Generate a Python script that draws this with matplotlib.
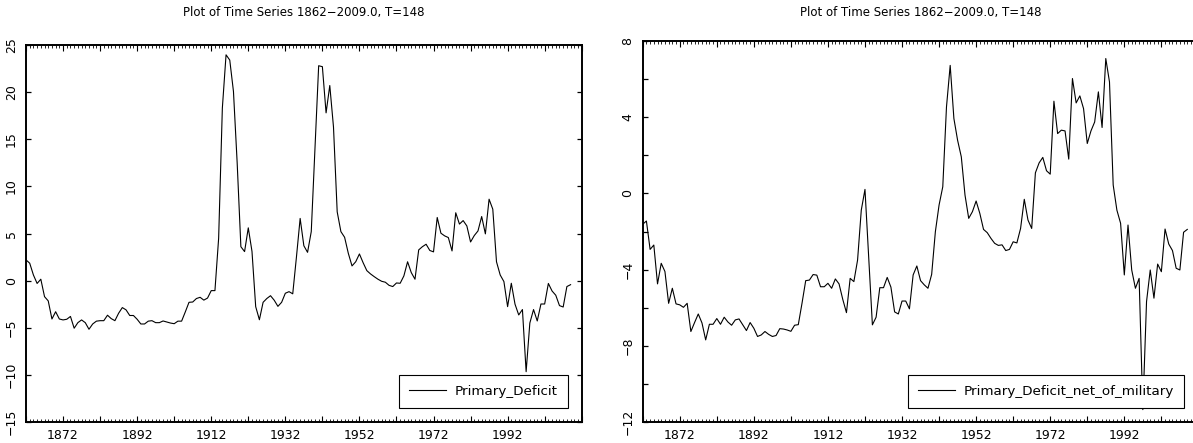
"""
Primary deficit time series, two panels (total and net of military)
"""

import numpy as np
import matplotlib.pyplot as plt
from matplotlib.ticker import MultipleLocator

# ---- data ----
first_year = 1862
last_year = 2009
years = np.arange(first_year, last_year + 1)

primary_deficit = [
    2.2, 1.85, 0.6, -0.3, 0.15, -1.7, -2.15, -4.07, -3.3, -4.07,          # 1862-1871
    -4.17, -4.1, -3.8, -5.05, -4.46, -4.17, -4.46, -5.16, -4.6, -4.3,     # 1872-1881
    -4.25, -4.25, -3.67, -4.03, -4.25, -3.46, -2.86, -3.1, -3.7, -3.7,    # 1882-1891
    -4.1, -4.6, -4.6, -4.3, -4.25, -4.46, -4.46, -4.28, -4.39, -4.5,      # 1892-1901
    -4.57, -4.3, -4.3, -3.32, -2.3, -2.27, -1.9, -1.77, -2.07, -1.85,     # 1902-1911
    -1.06, -1.06, 4.5, 18.3, 23.96, 23.4, 20.07, 12.5, 3.6, 3.08,         # 1912-1921
    5.6, 3.1, -2.76, -4.15, -2.3, -1.9, -1.6, -2.08, -2.73, -2.3,         # 1922-1931
    -1.34, -1.17, -1.4, 2.5, 6.6, 3.7, 3.0, 5.2, 14.0, 22.8,              # 1932-1941
    22.7, 17.8, 20.7, 16.3, 7.3, 5.2, 4.6, 2.9, 1.56, 2.0,                # 1942-1951
    2.83, 1.9, 1.06, 0.71, 0.42, 0.15, -0.07, -0.17, -0.5, -0.63,         # 1952-1961
    -0.25, -0.28, 0.5, 2.0, 0.85, 0.15, 3.26, 3.6, 3.86, 3.2,             # 1962-1971
    3.05, 6.7, 5.03, 4.75, 4.57, 3.15, 7.2, 6.0, 6.37, 5.8,               # 1972-1981
    4.1, 4.78, 5.27, 6.8, 4.96, 8.64, 7.58, 2.0, 0.6, -0.1,               # 1982-1991
    -2.76, -0.28, -2.5, -3.64, -3.07, -9.66, -4.5, -3.07, -4.28, -2.48,   # 1992-2001
    -2.48, -0.3, -1.1, -1.55, -2.65, -2.8, -0.63, -0.43,                  # 2002-2009
]

primary_deficit_net_military = [
    -1.62, -1.45, -2.94, -2.71, -4.75, -3.67, -4.1, -5.77, -4.98, -5.8,   # 1862-1871
    -5.85, -5.98, -5.77, -7.25, -6.78, -6.33, -6.8, -7.69, -6.87, -6.87,  # 1872-1881
    -6.57, -6.87, -6.5, -6.75, -6.92, -6.64, -6.59, -6.9, -7.2, -6.78,    # 1882-1891
    -7.08, -7.51, -7.43, -7.25, -7.4, -7.51, -7.46, -7.1, -7.12, -7.17,   # 1892-1901
    -7.24, -6.92, -6.89, -5.77, -4.58, -4.55, -4.26, -4.29, -4.9, -4.9,   # 1902-1911
    -4.72, -4.98, -4.49, -4.75, -5.56, -6.26, -4.46, -4.63, -3.5, -0.88,  # 1912-1921
    0.21, -3.32, -6.9, -6.5, -4.95, -4.95, -4.41, -4.92, -6.22, -6.33,    # 1922-1931
    -5.65, -5.65, -6.06, -4.28, -3.81, -4.58, -4.8, -4.98, -4.25, -2.01,  # 1932-1941
    -0.61, 0.35, 4.54, 6.72, 3.93, 2.79, 1.92, -0.09, -1.31, -0.96,       # 1942-1951
    -0.4, -1.05, -1.89, -2.06, -2.36, -2.62, -2.73, -2.7, -3.0, -2.94,    # 1952-1961
    -2.54, -2.6, -1.84, -0.31, -1.4, -1.84, 1.08, 1.6, 1.89, 1.19,        # 1962-1971
    1.01, 4.84, 3.14, 3.32, 3.28, 1.8, 6.03, 4.75, 5.12, 4.45,            # 1972-1981
    2.62, 3.28, 3.75, 5.33, 3.46, 7.08, 5.85, 0.44, -0.88, -1.57,         # 1982-1991
    -4.28, -1.66, -4.02, -4.98, -4.46, -11.35, -5.68, -4.02, -5.5, -3.71, # 1992-2001
    -4.11, -1.87, -2.66, -3.0, -3.93, -4.02, -2.04, -1.89,                # 2002-2009
]

series_names = ["Primary_Deficit", "Primary_Deficit_net_of_military"]
title_text = "Plot of Time Series 1862\u22122009.0, T=148"
labelled_years = [1872, 1892, 1912, 1932, 1952, 1972, 1992]

# ---- layout (pixels of the reference) ----
W, H = 1193, 443
plt.rcParams['font.family'] = 'DejaVu Sans'
plt.rcParams['axes.unicode_minus'] = True

fig = plt.figure(figsize=(W / 100, H / 100), dpi=100)
ax1 = fig.add_axes([26 / W, (H - 422) / H, 555.7 / W, 377 / H])
ax2 = fig.add_axes([642.7 / W, (H - 422) / H, 555.7 / W, 381 / H])


def style_axes(ax, ylim, ymajor, yminor, title_pad):
    """Old school econometrics package look: inward ticks, rotated y labels"""
    ax.set_xlim(first_year, first_year + 150)
    ax.set_ylim(*ylim)

    # x ticks: labels every 20 years, bigger tick every 10, small tick every year
    xt = list(range(first_year, first_year + 151, 10))
    xl = [str(t) if t in labelled_years else "" for t in xt]
    ax.set_xticks(xt, xl)
    ax.xaxis.set_minor_locator(MultipleLocator(1))

    ax.yaxis.set_major_locator(MultipleLocator(ymajor))
    if yminor:
        ax.yaxis.set_minor_locator(MultipleLocator(yminor))

    ax.tick_params(axis='x', which='major', direction='in', length=4, width=0.8,
                   top=True, bottom=True, labelsize=9, pad=5)
    ax.tick_params(axis='x', which='minor', direction='in', length=2, width=0.6,
                   top=True, bottom=True)
    ax.tick_params(axis='y', which='both', direction='in', length=3.5, width=0.9,
                   left=True, right=True, labelsize=9, pad=6)
    for lab in ax.get_yticklabels():
        lab.set_rotation(90)
        lab.set_va('center')

    for s in ax.spines.values():
        s.set_linewidth(1.4)

    ax.set_title(title_text, fontsize=8.5, pad=title_pad)


# ---- left panel ----
ax1.plot(years, primary_deficit, color='black', linewidth=0.8, label=series_names[0])
style_axes(ax1, (-15, 25), 5, None, 21)

# ---- right panel ----
ax2.plot(years, primary_deficit_net_military, color='black', linewidth=0.8,
         label=series_names[1])
style_axes(ax2, (-12, 8), 4, 2, 18)

for ax in (ax1, ax2):
    bb = ax.get_window_extent()
    leg = ax.legend(loc='lower right',
                    bbox_to_anchor=(1 - 14 / bb.width, 14 / bb.height),
                    borderaxespad=0, fontsize=9.7, frameon=True, fancybox=False,
                    edgecolor='black', framealpha=1, handlelength=2.75,
                    handletextpad=0.65, borderpad=0.75)
    leg.get_frame().set_linewidth(0.8)

fig.savefig('out.png', dpi=100)
